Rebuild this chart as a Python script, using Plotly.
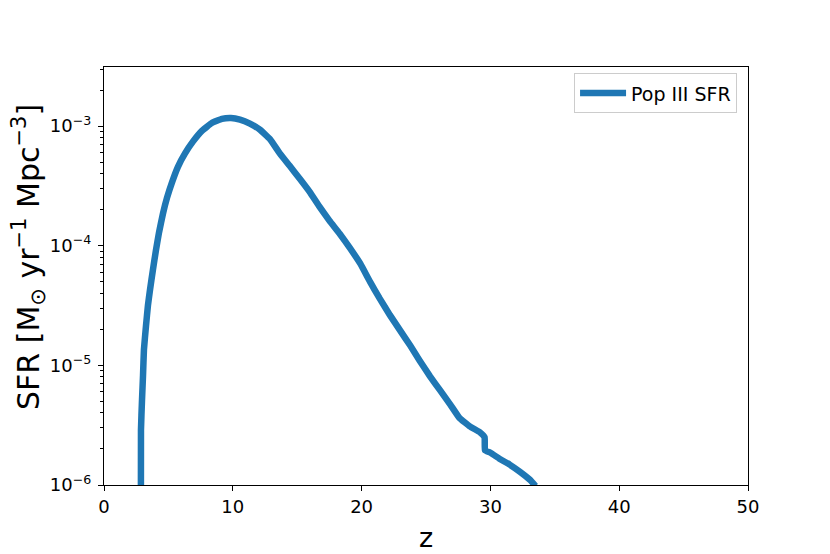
import plotly.graph_objects as go

# redshift and Pop III star formation rate density
z = [2.86, 2.87, 2.95, 3.03, 3.1, 3.26, 3.41, 3.57, 3.8, 4.03, 4.27, 4.58, 4.89,
     5.28, 5.74, 6.28, 6.9, 7.6, 8.37, 9.15, 9.86, 10.56, 11.33, 12.1, 12.9,
     13.66, 14.4, 15.2, 15.97, 16.7, 17.5, 18.3, 19.1, 19.9, 20.65, 21.4, 22.2,
     23.0, 23.8, 24.5, 25.3, 26.1, 26.9, 27.6, 28.4, 29.2, 29.55, 29.58, 30.0,
     30.7, 31.5, 32.3, 33.1, 33.5]
sfr = [3.0e-7, 2.88e-6, 5.13e-6, 8.3e-6, 1.35e-5, 2.14e-5, 3.16e-5, 4.27e-5,
       6.31e-5, 9.12e-5, 1.29e-4, 1.86e-4, 2.51e-4, 3.39e-4, 4.57e-4, 5.89e-4,
       7.41e-4, 9.12e-4, 1.06e-3, 1.15e-3, 1.17e-3, 1.135e-3, 1.05e-3, 9.33e-4,
       7.76e-4, 5.89e-4, 4.68e-4, 3.63e-4, 2.82e-4, 2.14e-4, 1.62e-4, 1.26e-4,
       9.55e-5, 7.08e-5, 5.01e-5, 3.63e-5, 2.63e-5, 1.95e-5, 1.45e-5, 1.10e-5,
       8.13e-6, 6.17e-6, 4.68e-6, 3.63e-6, 3.09e-6, 2.75e-6, 2.51e-6, 1.95e-6,
       1.86e-6, 1.66e-6, 1.48e-6, 1.29e-6, 1.10e-6, 9.8e-7]

y_major = [1e-6, 1e-5, 1e-4, 1e-3]
y_major_text = ["10<sup>−6</sup>", "10<sup>−5</sup>", "10<sup>−4</sup>", "10<sup>−3</sup>"]
y_minor = [k * 10.0 ** e for e in range(-6, -2) for k in range(2, 10)]
x_ticks = [0, 10, 20, 30, 40, 50]

x_title = "z"
y_title = "SFR [M<sub>⊙</sub> yr<sup>−1</sup> Mpc<sup>−3</sup>]"

blue = "#1f77b4"
font = "DejaVu Sans"

fig = go.Figure()
fig.add_trace(go.Scatter(x=z, y=sfr, mode="lines", name="Pop III SFR",
                         line=dict(color=blue, width=6.5, shape="spline", smoothing=0.3)))

axis_common = dict(showline=True, linecolor="black", linewidth=1.2, mirror=True,
                   showgrid=False, zeroline=False, ticks="outside", ticklen=5,
                   tickwidth=1, tickcolor="black",
                   tickfont=dict(family=font, size=18, color="black"))

fig.update_xaxes(range=[0, 50], tickvals=x_ticks, **axis_common)
fig.update_yaxes(type="log", range=[-6, -2.506], tickvals=y_major, ticktext=y_major_text,
                 ticklabelstandoff=3,
                 minor=dict(tickvals=y_minor, ticks="outside", ticklen=2.5, tickcolor="black", tickwidth=0.8),
                 **axis_common)

fig.add_annotation(text=x_title, xref="paper", yref="paper", x=0.5, y=0,
                   xanchor="center", yanchor="middle", yshift=-52, showarrow=False,
                   font=dict(family=font, size=27, color="black"))
fig.add_annotation(text=y_title, xref="paper", yref="paper", x=0, y=0.5,
                   xanchor="center", yanchor="middle", xshift=-76, yshift=19,
                   textangle=-90, showarrow=False,
                   font=dict(family=font, size=30, color="black"))

fig.update_layout(
    width=822, height=546,
    margin=dict(l=96, r=82, t=59, b=69, autoexpand=False),
    paper_bgcolor="white", plot_bgcolor="white",
    font=dict(family=font, color="black"),
    showlegend=True,
    legend=dict(x=0.983, y=0.985, xanchor="right", yanchor="top",
                bgcolor="rgba(255,255,255,0.8)", bordercolor="#cccccc", borderwidth=1,
                font=dict(family=font, size=19, color="black"), itemwidth=46,
                tracegroupgap=0),
)

fig.write_html("out.html")
